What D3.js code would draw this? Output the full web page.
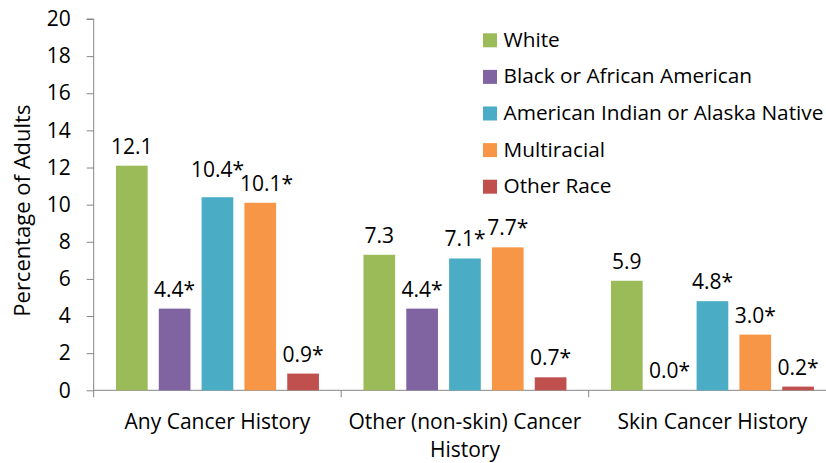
<!DOCTYPE html>
<html>
<head>
<meta charset="utf-8">
<script src="https://cdn.jsdelivr.net/npm/d3@7"></script>
<style>
  body { margin: 0; background: #fff; }
  text { font-family: "Open Sans", Lato, sans-serif; fill: #000; }
</style>
</head>
<body>
<svg id="chart" width="826" height="463"></svg>
<script>
// categories on the x axis (second one wraps onto two lines)
const categories = ["Any Cancer History", "Other (non-skin) Cancer History", "Skin Cancer History"];
const categoryLines = [["Any Cancer History"], ["Other (non-skin) Cancer", "History"], ["Skin Cancer History"]];

// race groups, one bar each per category
const races = ["White", "Black or African American", "American Indian or Alaska Native", "Multiracial", "Other Race"];
const colors = ["#9BBB59", "#8064A2", "#4BACC6", "#F79646", "#C0504D"];

// values per race, in category order
const white = [12.1, 7.3, 5.9];
const black = [4.4, 4.4, 0.0];
const aian = [10.4, 7.1, 4.8];
const multi = [10.1, 7.7, 3.0];
const other = [0.9, 0.7, 0.2];

// * marks an estimate flagged in the source
const flagged = [
  [false, false, false],
  [true, true, true],
  [true, true, true],
  [true, true, true],
  [true, true, true]
];

const yTicks = [0, 2, 4, 6, 8, 10, 12, 14, 16, 18, 20];

const series = [white, black, aian, multi, other];

// build rows the scales can use
const data = categories.map((c, i) => ({
  category: c,
  values: races.map((r, j) => ({ race: r, idx: j, value: series[j][i], flag: flagged[j][i] }))
}));

const svg = d3.select("#chart");
const plotLeft = 93.7, plotRight = 836.2, plotTop = 19, plotBottom = 390.3;
const fontSize = "21px";

const x0 = d3.scaleBand().domain(categories).range([plotLeft, plotRight]).padding(0);
const x1 = d3.scaleBand().domain(races).range([0, x0.bandwidth()]).paddingInner(0.26).paddingOuter(0.52);
const y = d3.scaleLinear().domain([0, 20]).range([plotBottom, plotTop]);
const color = d3.scaleOrdinal().domain(races).range(colors);

// y axis
const yAxis = svg.append("g")
  .attr("transform", `translate(${plotLeft},0)`)
  .call(d3.axisLeft(y).tickValues(yTicks).tickSize(7).tickPadding(16));
yAxis.select(".domain").attr("stroke", "#868686").attr("d", `M-7,${plotTop}H0V${plotBottom + 7}`);
yAxis.selectAll(".tick line").attr("stroke", "#868686");
yAxis.selectAll(".tick text").style("font-size", fontSize).attr("fill", "#000");

// x axis line and category dividers
svg.append("line")
  .attr("x1", plotLeft).attr("x2", plotRight)
  .attr("y1", plotBottom).attr("y2", plotBottom)
  .attr("stroke", "#868686");
svg.selectAll(".divider")
  .data(categories.slice(1))
  .join("line")
  .attr("class", "divider")
  .attr("x1", (d) => x0(d)).attr("x2", (d) => x0(d))
  .attr("y1", plotBottom).attr("y2", plotBottom + 7)
  .attr("stroke", "#868686");

// category labels
svg.selectAll(".cat")
  .data(categories)
  .join("text")
  .attr("class", "cat")
  .attr("text-anchor", "middle")
  .style("font-size", fontSize)
  .each(function (d, i) {
    d3.select(this).selectAll("tspan")
      .data(categoryLines[i])
      .join("tspan")
      .attr("x", x0(d) + x0.bandwidth() / 2)
      .attr("y", (t, k) => 429 + k * 28)
      .text((t) => t);
  });

// bars
const groups = svg.selectAll(".group")
  .data(data)
  .join("g")
  .attr("class", "group")
  .attr("transform", (d) => `translate(${x0(d.category)},0)`);

groups.selectAll("rect")
  .data((d) => d.values)
  .join("rect")
  .attr("x", (d) => x1(d.race))
  .attr("width", x1.bandwidth())
  .attr("y", (d) => y(d.value))
  .attr("height", (d) => y(0) - y(d.value))
  .attr("fill", (d) => color(d.race));

// value labels
groups.each(function () {
  const labels = d3.select(this).selectAll(".val")
    .data((d) => d.values)
    .join("text")
    .attr("class", "val")
    .attr("text-anchor", "middle")
    .style("font-size", fontSize)
    .attr("x", (d) => x1(d.race) + x1.bandwidth() / 2)
    .attr("y", (d) => y(d.value) - 12)
    .text((d) => d.value.toFixed(1) + (d.flag ? "*" : ""));

  // nudge neighbours apart when they collide, like Excel does
  const nodes = labels.nodes();
  for (let i = 0; i < nodes.length - 1; i++) {
    const left = d3.select(nodes[i]), right = d3.select(nodes[i + 1]);
    const a = nodes[i].getBBox(), b = nodes[i + 1].getBBox();
    const overlapX = a.x + a.width - b.x;
    const ya = +left.attr("y"), yb = +right.attr("y");
    if (overlapX > 3 && Math.abs(ya - yb) < 12) {
      right.attr("x", +right.attr("x") + overlapX * 0.6);
      // lift the higher one clear of the other
      if (ya <= yb) left.attr("y", yb - 14);
      else right.attr("y", ya - 14);
    }
  }
});

// y axis title
svg.append("text")
  .attr("transform", `translate(30,${(plotTop + plotBottom) / 2 + 6}) rotate(-90)`)
  .attr("text-anchor", "middle")
  .style("font-size", "22px")
  .text("Percentage of Adults");

// legend
const legend = svg.selectAll(".legend")
  .data(races)
  .join("g")
  .attr("class", "legend")
  .attr("transform", (d, i) => `translate(483,${40.3 + i * 36.6})`);
legend.append("rect")
  .attr("y", -7).attr("width", 14).attr("height", 14)
  .attr("fill", (d) => color(d));
legend.append("text")
  .attr("x", 20.5).attr("dy", "0.31em")
  .style("font-size", "20.8px")
  .text((d) => d);
</script>
</body>
</html>
